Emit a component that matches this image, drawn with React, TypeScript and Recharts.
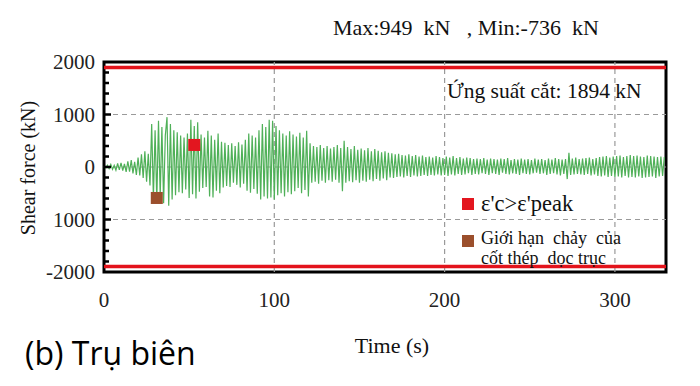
import React from "react";
import {
  ComposedChart,
  Line,
  Scatter,
  XAxis,
  YAxis,
  ReferenceLine,
  ReferenceArea,
} from "recharts";

// Shear force (kN) sampled every 1 s, t = 0..329
const shearForce: number[] = [
  10, -20, 35, -30, 50, -45, 30, -60, 70, -55,
  80, -70, 60, -95, 110, -90, 130, -120, 100, -150,
  180, -160, 240, -210, 300, -280, 250, -350, 820, -600,
  700, -650, 880, -560, 760, -690, 600, 949, -736, 820,
  -620, 700, -540, 660, -480, 600, -500, 560, -430, 640,
  -590, 900, -520, 780, -600, 850, -470, 620, -400, 560,
  -380, 690, -560, 600, -580, 520, -450, 640, -500, 480,
  -390, 460, -360, 420, -380, 450, -300, 400, -340, 470,
  -390, 430, -320, 520, -450, 640, -490, 600, -420, 560,
  -510, 700, -620, 820, -560, 760, -600, 900, -580, 880,
  -620, 780, -540, 700, -500, 640, -560, 600, -480, 680,
  -520, 620, -460, 580, -400, 650, -500, 560, -440, 690,
  -560, 450, -300, 400, -280, 380, -320, 420, -260, 360,
  -300, 400, -250, 350, -280, 380, -240, 420, -300, 360,
  -460, 500, -300, 380, -270, 340, -290, 400, -250, 330,
  -300, 350, -260, 320, -280, 360, -240, 300, -270, 340,
  -230, 310, -260, 280, -220, 300, -250, 270, -200, 260,
  -210, 240, -190, 250, -180, 230, -200, 220, -170, 240,
  -190, 210, -160, 230, -180, 200, -170, 220, -150, 190,
  -170, 200, -150, 180, -160, 210, -140, 190, -160, 170,
  -150, 200, -170, 180, -140, 210, -160, 170, -130, 190,
  -150, 160, -140, 180, -120, 170, -150, 150, -130, 160,
  -140, 150, -120, 170, -130, 140, -150, 160, -120, 150,
  -130, 140, -150, 160, -110, 150, -130, 170, -140, 130,
  -120, 150, -130, 140, -150, 160, -120, 140, -130, 150,
  -140, 130, -120, 160, -110, 140, -130, 150, -120, 130,
  -150, 160, -130, 140, -120, 170, -140, 150, -160, 140,
  -130, 150, -230, 270, -150, 160, -140, 180, -130, 150,
  -140, 160, -150, 170, -130, 180, -160, 150, -140, 170,
  -170, 190, -180, 200, -160, 210, -190, 180, -170, 200,
  -190, 210, -180, 220, -200, 190, -170, 210, -200, 230,
  -190, 210, -200, 220, -180, 200, -210, 190, -200, 220,
  -190, 210, -180, 200, -210, 190, -180, 200, -170, 190,
];

const peakStrainPoints = [{ t: 53, v: 420 }];
const yieldPoints = [{ t: 31, v: -590 }];

const shearCapacity = 1894;
const xTicks = [0, 100, 200, 300];
const yTicks = [
  -2000, -1800, -1600, -1400, -1200, -1000, -800, -600, -400, -200, 0, 200,
  400, 600, 800, 1000, 1200, 1400, 1600, 1800, 2000,
];
const yLabelValues = [-2000, -1000, 0, 1000, 2000];
const yLabelText: Record<string, string> = {
  "-2000": "-2000",
  "-1000": "1000",
  "0": "0",
  "1000": "1000",
  "2000": "2000",
};

const data = shearForce.map((v, i) => ({ t: i, v }));

const serif = "'Liberation Serif', 'DejaVu Serif', serif";

const YTick = (props: any) => {
  const { x, y, payload } = props;
  const val = payload.value as number;
  const isMajor = yLabelValues.includes(val);
  const axisX = x + 9;
  return (
    <g>
      {val !== 2000 && val !== -2000 && (
        <line
          x1={axisX}
          x2={axisX + (isMajor ? 7 : 5)}
          y1={y}
          y2={y}
          stroke="#000"
          strokeWidth={2.5}
        />
      )}
      {isMajor && (
        <text
          x={x}
          y={y}
          dy="0.35em"
          textAnchor="end"
          style={{ fontFamily: serif, fontSize: 21 }}
          fill="#222"
        >
          {yLabelText[String(val)]}
        </text>
      )}
    </g>
  );
};

const XTick = (props: any) => {
  const { x, y, payload } = props;
  return (
    <text
      x={x}
      y={y}
      dy="0.71em"
      textAnchor="middle"
      style={{ fontFamily: serif, fontSize: 21 }}
      fill="#222"
    >
      {payload.value}
    </text>
  );
};

const RedSquare = (props: any) => (
  <rect x={props.cx - 6} y={props.cy - 6} width={12} height={12} fill="#e3161f" />
);
const BrownSquare = (props: any) => (
  <rect x={props.cx - 6} y={props.cy - 6} width={12} height={12} fill="#9b4f2c" />
);

export default function App() {
  const txt: React.CSSProperties = {
    position: "absolute",
    fontFamily: serif,
    color: "#111",
    whiteSpace: "pre",
    lineHeight: 1,
  };
  return (
    <div
      style={{
        position: "absolute",
        left: 0,
        top: 0,
        width: 700,
        height: 386,
        background: "#fff",
      }}
    >
      <ComposedChart
        width={700}
        height={386}
        data={data}
        margin={{ top: 62, right: 34, bottom: 74, left: 44 }}
      >
        <XAxis
          dataKey="t"
          type="number"
          domain={[0, 330]}
          ticks={xTicks}
          tickSize={0}
          tickMargin={20}
          axisLine={false}
          height={40}
          tick={<XTick />}
        />
        <YAxis
          type="number"
          domain={[-2000, 2000]}
          ticks={yTicks}
          interval={0}
          width={60}
          tickSize={0}
          tickMargin={9}
          axisLine={false}
          tick={<YTick />}
        />
        {[-1000, 0, 1000].map((v) => (
          <ReferenceLine
            key={"h" + v}
            y={v}
            stroke="#9a9a9a"
            strokeDasharray="5 4"
            strokeWidth={1.2}
          />
        ))}
        {[100, 200, 300].map((v) => (
          <ReferenceLine
            key={"v" + v}
            x={v}
            stroke="#9a9a9a"
            strokeDasharray="5 4"
            strokeWidth={1.2}
          />
        ))}
        <Line
          dataKey="v"
          stroke="#4fb058"
          strokeWidth={1.2}
          dot={false}
          isAnimationActive={false}
        />
        <ReferenceLine y={shearCapacity} stroke="#e3131b" strokeWidth={3.5} />
        <ReferenceLine y={-shearCapacity} stroke="#e3131b" strokeWidth={3.5} />
        <Scatter
          data={peakStrainPoints}
          dataKey="v"
          shape={<RedSquare />}
          isAnimationActive={false}
        />
        <Scatter
          data={yieldPoints}
          dataKey="v"
          shape={<BrownSquare />}
          isAnimationActive={false}
        />
        <ReferenceArea
          x1={0}
          x2={330}
          y1={-2000}
          y2={2000}
          fill="none"
          fillOpacity={0}
          stroke="#000"
          strokeWidth={3}
        />
      </ComposedChart>

      <div style={{ ...txt, left: 333, top: 17, fontSize: 22 }}>
        {"Max:949  kN   , Min:-736  kN"}
      </div>
      <div style={{ ...txt, left: 447, top: 81, fontSize: 21.5 }}>
        {"Ứng suất cắt: 1894 kN"}
      </div>
      <div
        style={{
          position: "absolute",
          left: 462,
          top: 198,
          width: 12,
          height: 12,
          background: "#e3161f",
        }}
      />
      <div style={{ ...txt, left: 481, top: 193, fontSize: 22.5 }}>
        {"ε'c>ε'peak"}
      </div>
      <div
        style={{
          position: "absolute",
          left: 462,
          top: 235,
          width: 12,
          height: 12,
          background: "#9b4f2c",
        }}
      />
      <div style={{ ...txt, left: 481, top: 229, fontSize: 18 }}>
        {"Giới hạn  chảy  của"}
      </div>
      <div style={{ ...txt, left: 481, top: 249, fontSize: 18 }}>
        {"cốt thép  dọc trục"}
      </div>
      <div
        style={{
          ...txt,
          left: 28,
          top: 168,
          fontSize: 20,
          transform: "translate(-50%, -50%) rotate(-90deg)",
        }}
      >
        {"Shear force (kN)"}
      </div>
      <div
        style={{
          ...txt,
          left: 392,
          top: 346,
          fontSize: 22,
          transform: "translate(-50%, -50%)",
        }}
      >
        {"Time (s)"}
      </div>
      <div
        style={{
          ...txt,
          left: 25,
          top: 353,
          fontSize: 32,
          color: "#000",
          transform: "translateY(-50%)",
          fontFamily: "'Open Sans', 'Noto Sans', sans-serif",
        }}
      >
        {"(b) Trụ biên"}
      </div>
    </div>
  );
}
